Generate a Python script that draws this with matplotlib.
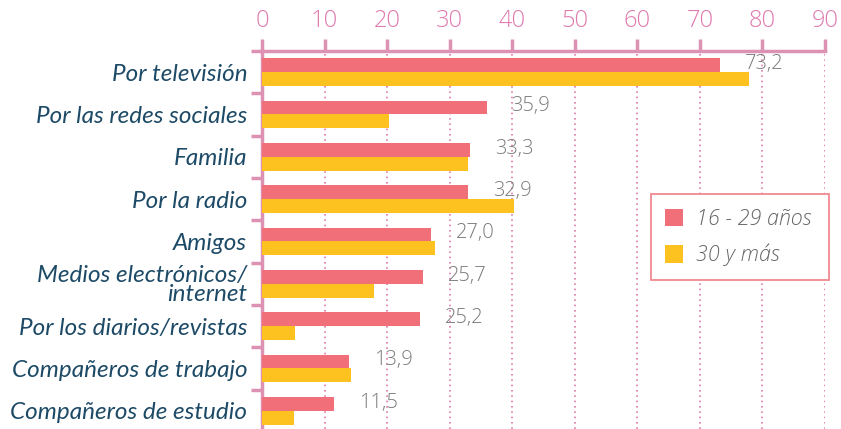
import matplotlib.pyplot as plt
import numpy as np

categories = ['Por televisión', 'Por las redes sociales', 'Familia', 'Por la radio', 'Amigos',
              'Medios electrónicos/\ninternet', 'Por los diarios/revistas',
              'Compañeros de trabajo', 'Compañeros de estudio']
young = [73.2, 35.9, 33.3, 32.9, 27.0, 25.7, 25.2, 13.9, 11.5]
older = [77.8, 20.3, 33.0, 40.3, 27.7, 17.9, 5.3, 14.3, 5.1]
series_names = ['16 - 29 años', '30 y más']

red = '#f06f78'
yellow = '#fec220'
pink = '#dd92b4'
tick_pink = '#e07aae'
navy = '#1d4a66'
grey = '#7a7a7a'

plt.rcParams['font.family'] = ['Lato', 'DejaVu Sans']
light = ['Open Sans', 'DejaVu Sans']

fig = plt.figure(figsize=(8.41, 4.29), dpi=100)
ax = fig.add_axes([262/841, 0.0, (825-262)/841, 1-51/429])

y = np.arange(len(categories))
h = 0.33
ax.barh(y - h/2, young, height=h, color=red, label=series_names[0], zorder=3)
ax.barh(y + h/2, older, height=h, color=yellow, label=series_names[1], zorder=3)

for yi, v in zip(y, young):
    ax.text(v + 4.0, yi - h/2 - 0.03, f'{v:.1f}'.replace('.', ','), va='center', ha='left',
            fontsize=14.5, color=grey, family=light, fontweight='light', zorder=4)

ax.set_xlim(0, 90)
ax.set_ylim(8.43, -0.5)
ax.set_xticks(np.arange(0, 91, 10))
ax.xaxis.tick_top()
ax.tick_params(axis='x', which='major', direction='out', length=9, width=2.5, color=pink,
               labelcolor=tick_pink, labelsize=17, pad=4)
for lab in ax.get_xticklabels():
    lab.set_family(light)
    lab.set_fontweight('light')

ax.set_yticks(y)
ax.set_yticklabels(categories, fontsize=17.5, color=navy, style='italic', linespacing=0.9)
ax.set_yticks(np.arange(-0.5, len(categories) - 0.5, 1), minor=True)
ax.tick_params(axis='y', which='major', length=0, pad=10.5)
ax.tick_params(axis='y', which='minor', direction='out', length=8, width=2.5, color=pink)

for s in ['right', 'bottom']:
    ax.spines[s].set_visible(False)
for s in ['top', 'left']:
    ax.spines[s].set_color(pink)
    ax.spines[s].set_linewidth(2.5)

ax.grid(axis='x', which='major', color=tick_pink, linestyle=(0, (1, 2.2)), linewidth=1.2, zorder=0)
ax.set_axisbelow(True)

x0 = (651 - 262) / (825 - 262)
w = (829 - 651) / (825 - 262)
y0 = 1 - (280 - 51) / 378
hh = (280 - 194) / 378
leg = ax.legend(loc='upper left', bbox_to_anchor=(x0, y0, w, hh), mode='expand', borderaxespad=0,
                frameon=True, fancybox=False, handlelength=0.85, handleheight=0.85,
                handletextpad=0.6, labelspacing=0.65, borderpad=0.65,
                prop={'style': 'italic', 'size': 15.5, 'family': light, 'weight': 'light'})
leg.get_frame().set_edgecolor('#f08a90')
leg.get_frame().set_linewidth(1.3)
leg.get_frame().set_alpha(1)
for t in leg.get_texts():
    t.set_color('#666666')

plt.savefig('out.png', dpi=100)
